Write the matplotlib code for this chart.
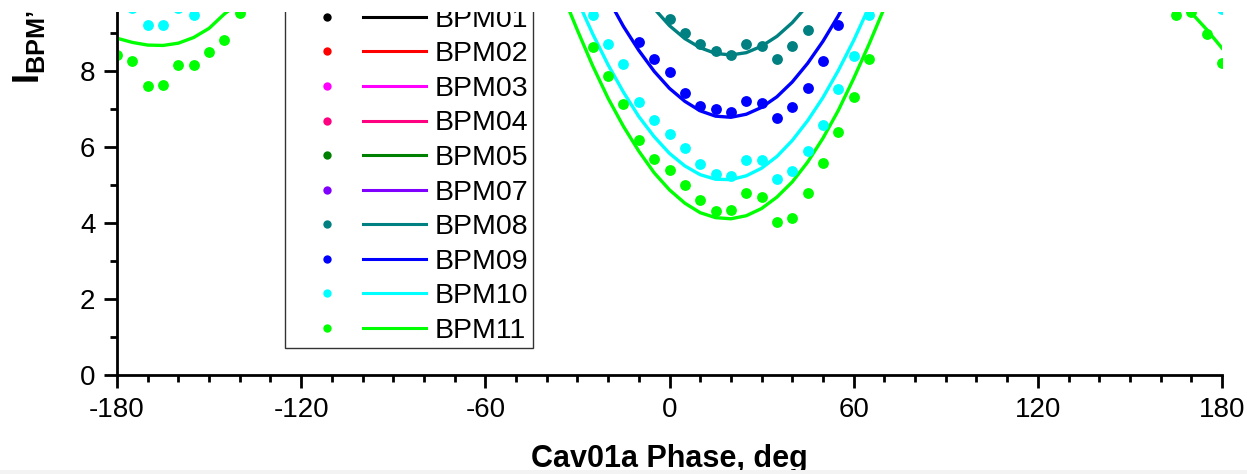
import matplotlib
matplotlib.use("Agg")
import matplotlib.pyplot as plt
from matplotlib.lines import Line2D
from matplotlib.legend_handler import HandlerBase
from matplotlib.patches import Rectangle
from matplotlib.ticker import MultipleLocator

plt.rcParams['font.family'] = ['Liberation Sans', 'DejaVu Sans']
plt.rcParams['mathtext.fontset'] = 'custom'
plt.rcParams['mathtext.rm'] = 'Liberation Sans'
plt.rcParams['mathtext.bf'] = 'Liberation Sans:bold'
plt.rcParams['axes.unicode_minus'] = False

# measured points (only the part inside the visible window)
ph11 = [-180, -175, -170, -165, -160, -155, -150, -145, -140,
        -25, -20, -15, -10, -5, 0, 5, 10, 15, 20, 25, 30, 35, 40, 45, 50, 55, 60, 65,
        165, 170, 175, 180]
bpm11 = [8.42, 8.25, 7.61, 7.63, 8.16, 8.16, 8.51, 8.82, 9.53,
         8.64, 7.87, 7.12, 6.18, 5.68, 5.39, 4.99, 4.61, 4.32, 4.33, 4.78, 4.69, 4.02, 4.14, 4.80, 5.59, 6.39, 7.32, 8.31,
         9.47, 9.55, 8.97, 8.20]

ph10 = [-175, -170, -165, -160, -155,
        -25, -20, -15, -10, -5, 0, 5, 10, 15, 20, 25, 30, 35, 40, 45, 50, 55, 60, 65,
        180]
bpm10 = [9.66, 9.22, 9.22, 9.65, 9.47,
         9.47, 8.72, 8.17, 7.18, 6.70, 6.33, 5.97, 5.54, 5.30, 5.24, 5.65, 5.65, 5.16, 5.37, 5.88, 6.59, 7.53, 8.39, 9.46,
         9.63]

ph09 = [-10, -5, 0, 5, 10, 15, 20, 25, 30, 35, 40, 45, 50, 55]
bpm09 = [8.77, 8.32, 7.97, 7.43, 7.09, 6.99, 6.93, 7.21, 7.15, 6.75, 7.06, 7.55, 8.27, 9.22]

ph08 = [0, 5, 10, 15, 20, 25, 30, 35, 40, 45]
bpm08 = [9.36, 8.99, 8.70, 8.53, 8.42, 8.70, 8.66, 8.32, 8.66, 9.08]

# fitted curves
fph11a = [-180, -175, -170, -165, -160, -155, -150, -145, -140]
fit11a = [8.86, 8.75, 8.68, 8.67, 8.73, 8.88, 9.12, 9.50, 9.80]
fph11 = [-35, -30, -25, -20, -15, -10, -5, 0, 5, 10, 15, 20, 25, 30, 35, 40, 45, 50, 55, 60, 65, 70]
fit11 = [10.05, 9.07, 8.13, 7.28, 6.54, 5.89, 5.32, 4.87, 4.52, 4.27, 4.14, 4.11, 4.19, 4.38, 4.68,
         5.08, 5.60, 6.23, 6.96, 7.80, 8.70, 9.66]
fph11b = [165, 170, 175, 180]
fit11b = [9.98, 9.53, 9.09, 8.60]

fph10 = [-30, -25, -20, -15, -10, -5, 0, 5, 10, 15, 20, 25, 30, 35, 40, 45, 50, 55, 60, 65]
fit10 = [9.86, 8.97, 8.16, 7.44, 6.80, 6.27, 5.83, 5.50, 5.27, 5.15, 5.14, 5.24, 5.44, 5.75,
         6.17, 6.69, 7.30, 8.01, 8.80, 9.68]

fph09 = [-20, -15, -10, -5, 0, 5, 10, 15, 20, 25, 30, 35, 40, 45, 50, 55, 60]
fit09 = [9.90, 9.17, 8.54, 7.99, 7.54, 7.20, 6.95, 6.81, 6.78, 6.86, 7.04, 7.32, 7.71, 8.20, 8.78, 9.45, 10.21]

fph08 = [-10, -5, 0, 5, 10, 15, 20, 25, 30, 35, 40, 45, 50]
fit08 = [10.17, 9.64, 9.19, 8.85, 8.61, 8.46, 8.42, 8.48, 8.65, 8.91, 9.27, 9.73, 10.29]

names = ['BPM01', 'BPM02', 'BPM03', 'BPM04', 'BPM05', 'BPM07', 'BPM08', 'BPM09', 'BPM10', 'BPM11']
colors = ['#000000', '#FF0000', '#FF00FF', '#FF0080', '#008000', '#8000FF', '#008080', '#0000FF', '#00FFFF', '#00FF00']


class DotLineHandler(HandlerBase):
    # Origin-style legend entry: a dot, a gap, then a short line
    def create_artists(self, legend, orig_handle, xdescent, ydescent, width, height, fontsize, trans):
        c = orig_handle.get_color()
        y = height / 2 - ydescent
        dot = Line2D([-xdescent + 0.276 * width], [y], ls='none', marker='o', ms=6, mew=0,
                     color=c, transform=trans)
        line = Line2D([-xdescent + 0.54 * width, -xdescent + width], [y, y], lw=2.2,
                      color=c, transform=trans)
        return [dot, line]


fig = plt.figure(figsize=(12.47, 4.74), dpi=100)
ax = fig.add_axes([117 / 1247, 1 - 375 / 474, (1222 - 117) / 1247, (375 - 12) / 474])

c08, c09, c10, c11 = colors[6], colors[7], colors[8], colors[9]
lw = 2.4
ms = 7.8
ax.plot(fph08, fit08, color=c08, lw=lw)
ax.plot(fph09, fit09, color=c09, lw=lw)
ax.plot(fph10, fit10, color=c10, lw=lw)
ax.plot(fph11a, fit11a, color=c11, lw=lw)
ax.plot(fph11, fit11, color=c11, lw=lw)
ax.plot(fph11b, fit11b, color=c11, lw=lw)
ax.plot(ph08, bpm08, 'o', color=c08, ms=ms, mew=0)
ax.plot(ph09, bpm09, 'o', color=c09, ms=ms, mew=0)
ax.plot(ph10, bpm10, 'o', color=c10, ms=ms, mew=0)
ax.plot(ph11, bpm11, 'o', color=c11, ms=ms, mew=0)

ax.set_xlim(-180, 180)
ax.set_ylim(0, 9.55)
ax.xaxis.set_major_locator(MultipleLocator(60))
ax.xaxis.set_minor_locator(MultipleLocator(10))
ax.yaxis.set_major_locator(MultipleLocator(2))
ax.yaxis.set_minor_locator(MultipleLocator(1))
for s in ['top', 'right']:
    ax.spines[s].set_visible(False)
for s in ['left', 'bottom']:
    ax.spines[s].set_linewidth(2)
ax.tick_params(which='major', direction='out', length=9.5, width=2, labelsize=20)
ax.tick_params(which='minor', direction='out', length=5, width=2)
ax.tick_params(axis='x', which='major', pad=6)
ax.tick_params(axis='y', which='major', pad=6)

fig.text(669.5 / 1247, 1 - 459 / 474, 'Cav01a Phase, deg', ha='center', va='center',
         fontsize=22, fontweight='bold')
fig.text(29 / 1247, 1 - 84 / 474, r'$\mathbf{I_{BPM’}}$', rotation=90, ha='center', va='bottom',
         fontsize=26)

handles = [Line2D([], [], color=c) for c in colors]
leg = fig.legend(handles, names, loc='lower left',
                 bbox_to_anchor=(285 / 1247, 1 - 348 / 474), bbox_transform=fig.transFigure,
                 handler_map={Line2D: DotLineHandler()},
                 handlelength=4.8, handletextpad=0.32, labelspacing=0.3, borderpad=0.15,
                 borderaxespad=0, fontsize=20.5, frameon=True, fancybox=False, framealpha=1,
                 edgecolor='#333333')
leg.get_frame().set_linewidth(1)

# the picture is a crop: a white band hides everything above the plot top
fig.add_artist(Rectangle((0, 1 - 12 / 474), 1, 12 / 474, transform=fig.transFigure,
                         facecolor='white', edgecolor='none', zorder=20))
fig.add_artist(Rectangle((0, 0), 1, 4 / 474, transform=fig.transFigure,
                         facecolor='#f3f3f3', edgecolor='none', zorder=20))

fig.savefig('out.png', dpi=100)
